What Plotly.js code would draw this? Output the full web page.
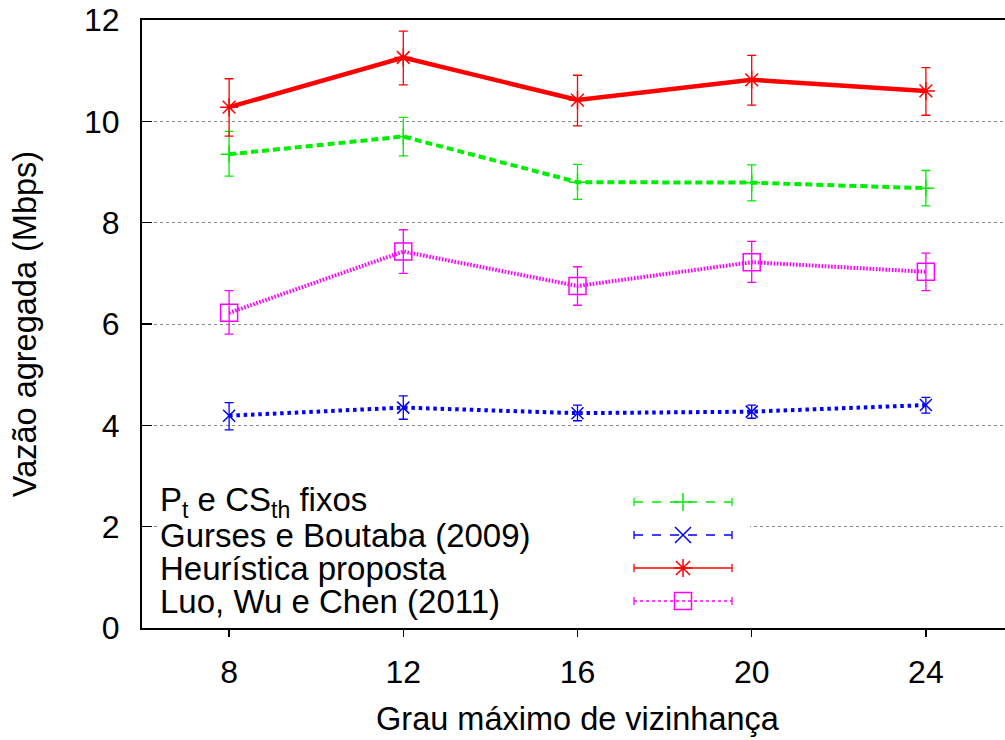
<!DOCTYPE html>
<html>
<head>
<meta charset="utf-8">
<script src="https://cdn.plot.ly/plotly-3.0.1.min.js"></script>
<style>
  html, body { margin: 0; padding: 0; overflow: hidden; background: #fff; }
  #chart { width: 1013px; height: 740px; }
</style>
</head>
<body>
<div id="chart"></div>
<script>
// ---- data ----
const xValues = [8, 12, 16, 20, 24];
const xTickLabels = ['8', '12', '16', '20', '24'];

const seriesNames = [
  'P<sub>t</sub> e CS<sub>th</sub> fixos',
  'Gurses e Boutaba (2009)',
  'Heurística proposta',
  'Luo, Wu e Chen (2011)'
];

const fixosMean = [9.35, 9.70, 8.80, 8.79, 8.68];
const fixosHigh = [9.80, 10.08, 9.15, 9.14, 9.03];
const fixosLow  = [8.92, 9.32, 8.46, 8.43, 8.33];

const gursesMean = [4.19, 4.35, 4.24, 4.27, 4.40];
const gursesHigh = [4.45, 4.58, 4.40, 4.40, 4.55];
const gursesLow  = [3.91, 4.12, 4.09, 4.14, 4.24];

const heurMean = [10.28, 11.26, 10.42, 10.82, 10.60];
const heurHigh = [10.84, 11.78, 10.91, 11.30, 11.06];
const heurLow  = [9.71, 10.72, 9.91, 10.32, 10.12];

const luoMean = [6.22, 7.43, 6.75, 7.22, 7.03];
const luoHigh = [6.66, 7.86, 7.13, 7.63, 7.40];
const luoLow  = [5.80, 7.00, 6.37, 6.82, 6.66];

// ---- styling ----
const FONT = 'Liberation Sans, Arial, Helvetica, sans-serif';
const GREEN = '#00ee00', BLUE = '#0000ff', RED = '#ff0000', MAGENTA = '#ff00ff';

function errObj(mean, hi, lo, color) {
  return {
    type: 'data', symmetric: false,
    array: hi.map((v, i) => v - mean[i]),
    arrayminus: lo.map((v, i) => mean[i] - v),
    color: color, thickness: 1.3, width: 4.5
  };
}

const traces = [
  {
    x: xValues, y: fixosMean, type: 'scatter', mode: 'lines+markers', name: seriesNames[0],
    line: { color: GREEN, width: 4, dash: '7px,4px' },
    marker: { symbol: 'cross-thin-open', size: 12, color: GREEN, line: { color: GREEN, width: 1.5 } },
    error_y: errObj(fixosMean, fixosHigh, fixosLow, GREEN)
  },
  {
    x: xValues, y: gursesMean, type: 'scatter', mode: 'lines+markers', name: seriesNames[1],
    line: { color: BLUE, width: 4, dash: '3.5px,3.8px' },
    marker: { symbol: 'x-thin-open', size: 12, color: BLUE, line: { color: BLUE, width: 1.5 } },
    error_y: errObj(gursesMean, gursesHigh, gursesLow, BLUE)
  },
  {
    x: xValues, y: heurMean, type: 'scatter', mode: 'lines+markers', name: seriesNames[2],
    line: { color: RED, width: 4.5 },
    marker: { symbol: 'asterisk-open', size: 15, color: RED, line: { color: RED, width: 1.5 } },
    error_y: errObj(heurMean, heurHigh, heurLow, RED)
  },
  {
    x: xValues, y: luoMean, type: 'scatter', mode: 'lines+markers', name: seriesNames[3],
    line: { color: MAGENTA, width: 4, dash: '1.6px,1.6px' },
    marker: { symbol: 'square-open', size: 17, color: MAGENTA, line: { color: MAGENTA, width: 1.5 } },
    error_y: errObj(luoMean, luoHigh, luoLow, MAGENTA)
  }
];

// ---- custom legend (text left, sample right, as in the reference) ----
const L = 142, T = 20, PW = 871, PH = 608;
const px = v => (v - L) / PW;
const py = v => (T + PH - v) / PH;

const legendColors = [GREEN, BLUE, RED, MAGENTA];
const legendDash = ['dash', 'dash', 'solid', 'dot'];
const legendSymbols = ['plus', 'x', 'asterisk', 'square'];
const rowY = [502, 535, 568, 601];
const sampleX0 = 634, sampleX1 = 732, sampleXC = 683;

function pathFor(sym, cx, cy) {
  const P = (a, b) => px(cx + a).toFixed(5) + ',' + py(cy + b).toFixed(5);
  if (sym === 'plus') { const r = 9; return 'M' + P(-r, 0) + 'L' + P(r, 0) + 'M' + P(0, -r) + 'L' + P(0, r); }
  if (sym === 'x') { const r = 8; return 'M' + P(-r, -r) + 'L' + P(r, r) + 'M' + P(-r, r) + 'L' + P(r, -r); }
  if (sym === 'asterisk') {
    const r = 9, d = 7;
    return 'M' + P(-r, 0) + 'L' + P(r, 0) + 'M' + P(0, -r) + 'L' + P(0, r) +
           'M' + P(-d, -d) + 'L' + P(d, d) + 'M' + P(-d, d) + 'L' + P(d, -d);
  }
  const s = 8.5;
  return 'M' + P(-s, -s) + 'L' + P(s, -s) + 'L' + P(s, s) + 'L' + P(-s, s) + 'Z';
}

const shapes = [
  { type: 'rect', xref: 'paper', yref: 'paper', x0: px(157), x1: px(750), y0: py(480), y1: py(620),
    fillcolor: '#ffffff', line: { width: 0 }, layer: 'above' }
];
const annotations = [];
seriesNames.forEach((name, i) => {
  const c = legendColors[i], y = rowY[i];
  shapes.push({ type: 'line', xref: 'paper', yref: 'paper', x0: px(sampleX0), x1: px(sampleX1),
    y0: py(y), y1: py(y), line: { color: c, width: 1.3, dash: legendDash[i] }, layer: 'above' });
  [sampleX0, sampleX1].forEach(xx => shapes.push({ type: 'line', xref: 'paper', yref: 'paper',
    x0: px(xx), x1: px(xx), y0: py(y - 4), y1: py(y + 4), line: { color: c, width: 1.3 }, layer: 'above' }));
  shapes.push({ type: 'path', xref: 'paper', yref: 'paper', path: pathFor(legendSymbols[i], sampleXC, y),
    line: { color: c, width: 1.5 }, layer: 'above' });
  annotations.push({ xref: 'paper', yref: 'paper', x: px(158), y: py(y), xanchor: 'left', yanchor: 'middle',
    text: name, showarrow: false, font: { family: FONT, size: 33, color: '#000' } });
});

const layout = {
  width: 1013, height: 740,
  margin: { l: L, r: 0, t: T, b: 740 - T - PH },
  paper_bgcolor: '#fff', plot_bgcolor: '#fff',
  showlegend: false,
  font: { family: FONT, size: 32, color: '#000' },
  xaxis: {
    range: [6, 26], tickmode: 'array', tickvals: xValues, ticktext: xTickLabels,
    ticks: 'outside', ticklen: 7, tickwidth: 1.5, tickcolor: '#000',
    showline: true, linewidth: 2, linecolor: '#000', mirror: true,
    showgrid: false, zeroline: false,
    tickfont: { family: FONT, size: 32, color: '#000' }, ticklabelstandoff: 8,
    title: { text: 'Grau máximo de vizinhança', font: { family: FONT, size: 32.5, color: '#000' }, standoff: 18 }
  },
  yaxis: {
    range: [0, 12], tickmode: 'array', tickvals: [0, 2, 4, 6, 8, 10, 12],
    ticks: 'inside', ticklen: 10, tickwidth: 1.5, tickcolor: '#000',
    showline: true, linewidth: 2, linecolor: '#000', mirror: true,
    showgrid: true, gridcolor: '#8a8a8a', gridwidth: 1, griddash: 'dot', zeroline: false,
    tickfont: { family: FONT, size: 32, color: '#000' }, ticklabelstandoff: 14,
    title: { text: 'Vazão agregada (Mbps)', font: { family: FONT, size: 32.5, color: '#000' }, standoff: 38 }
  },
  shapes: shapes,
  annotations: annotations
};

Plotly.newPlot('chart', traces, layout, { displayModeBar: false, staticPlot: true });
</script>
</body>
</html>
